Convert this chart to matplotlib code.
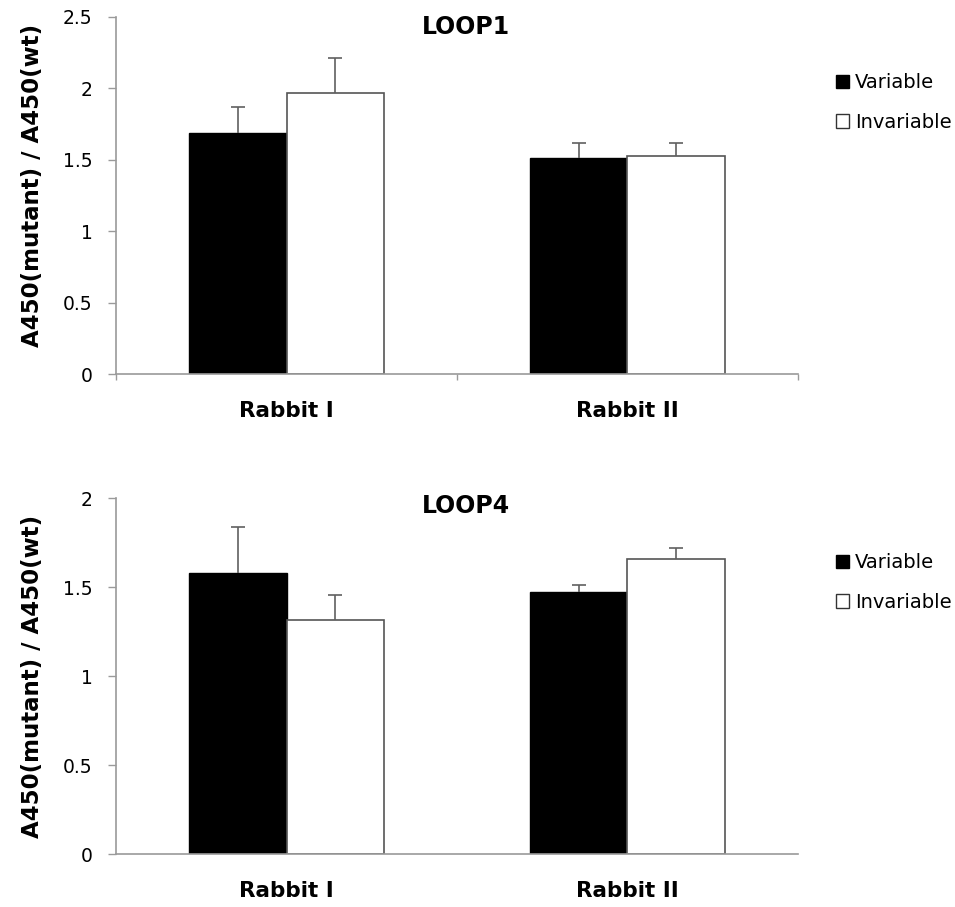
import numpy as np
import matplotlib
matplotlib.use('Agg')
import matplotlib.pyplot as plt
from matplotlib.patches import Patch

plt.rcParams['font.family'] = ['DejaVu Sans']

categories = ['Rabbit I', 'Rabbit II']
series = ['Variable', 'Invariable']

loop1_variable = [1.69, 1.515]
loop1_variable_err = [0.18, 0.10]
loop1_invariable = [1.965, 1.525]
loop1_invariable_err = [0.25, 0.09]

loop4_variable = [1.58, 1.475]
loop4_variable_err = [0.26, 0.04]
loop4_invariable = [1.315, 1.66]
loop4_invariable_err = [0.14, 0.06]

# title, values, y max, axes rect, title y, ylabel y, legend y, category ticks shown
panels = [
    ('LOOP1', loop1_variable, loop1_variable_err, loop1_invariable, loop1_invariable_err,
     2.5, [0.1215, 0.5876, 0.714, 0.3937], 0.972, 0.528, 0.842, True),
    ('LOOP4', loop4_variable, loop4_variable_err, loop4_invariable, loop4_invariable_err,
     2.0, [0.1215, 0.0581, 0.714, 0.3925], 0.978, 0.5, 0.845, False),
]

spine_col = '#9a9a9a'
fig = plt.figure(figsize=(9.55, 9.07), dpi=100)

for title, var, var_err, inv, inv_err, ymax, rect, ty, ly, gy, xticks in panels:
    ax = fig.add_axes(rect)
    x = np.arange(len(categories))
    w = 0.286
    err_kw = dict(ecolor='#606060', elinewidth=1.2, capsize=5, capthick=1.2)
    b1 = ax.bar(x - w / 2, var, w, color='black', edgecolor='black', linewidth=1,
                yerr=[np.zeros(len(var)), var_err], error_kw=err_kw)
    b2 = ax.bar(x + w / 2, inv, w, color='white', edgecolor='#555555', linewidth=1.2,
                yerr=[np.zeros(len(inv)), inv_err], error_kw=err_kw)
    # only the upper error bar is shown
    for b in (b1, b2):
        b.errorbar.lines[1][0].set_visible(False)

    ax.set_xlim(-0.5, 1.5)
    ax.set_ylim(0, ymax)
    yt = np.arange(0, ymax + 0.01, 0.5)
    ax.set_yticks(yt)
    ax.set_yticklabels(['%g' % v for v in yt])
    ax.tick_params(axis='y', direction='out', length=5.8, width=1, color=spine_col,
                   labelsize=13.5, pad=11)

    ax.set_xticks(x)
    ax.set_xticklabels(categories, fontsize=15.5, fontweight='bold')
    ax.tick_params(axis='x', length=0, pad=19.5)
    if xticks:
        ax.set_xticks([-0.5, 0.5, 1.5], minor=True)
        ax.tick_params(axis='x', which='minor', direction='out', length=4, width=1,
                       color=spine_col)

    for s in ['top', 'right']:
        ax.spines[s].set_visible(False)
    for s in ['left', 'bottom']:
        ax.spines[s].set_color(spine_col)
        ax.spines[s].set_linewidth(1.2)

    ax.set_ylabel('A450(mutant) / A450(wt)', fontsize=16.5, fontweight='bold')
    ax.yaxis.set_label_coords(-0.105, ly)
    ax.text(0.513, ty, title, transform=ax.transAxes, ha='center', va='center',
            fontsize=17, fontweight='bold')

    handles = [Patch(facecolor='black', edgecolor='black', label=series[0]),
               Patch(facecolor='white', edgecolor='#333333', label=series[1])]
    ax.legend(handles=handles, loc='upper left', bbox_to_anchor=(1.056, gy),
              frameon=False, fontsize=14, handlelength=0.67, handleheight=0.67,
              handletextpad=0.3, labelspacing=1.05, borderpad=0, borderaxespad=0)

fig.savefig('out.png', dpi=100)
